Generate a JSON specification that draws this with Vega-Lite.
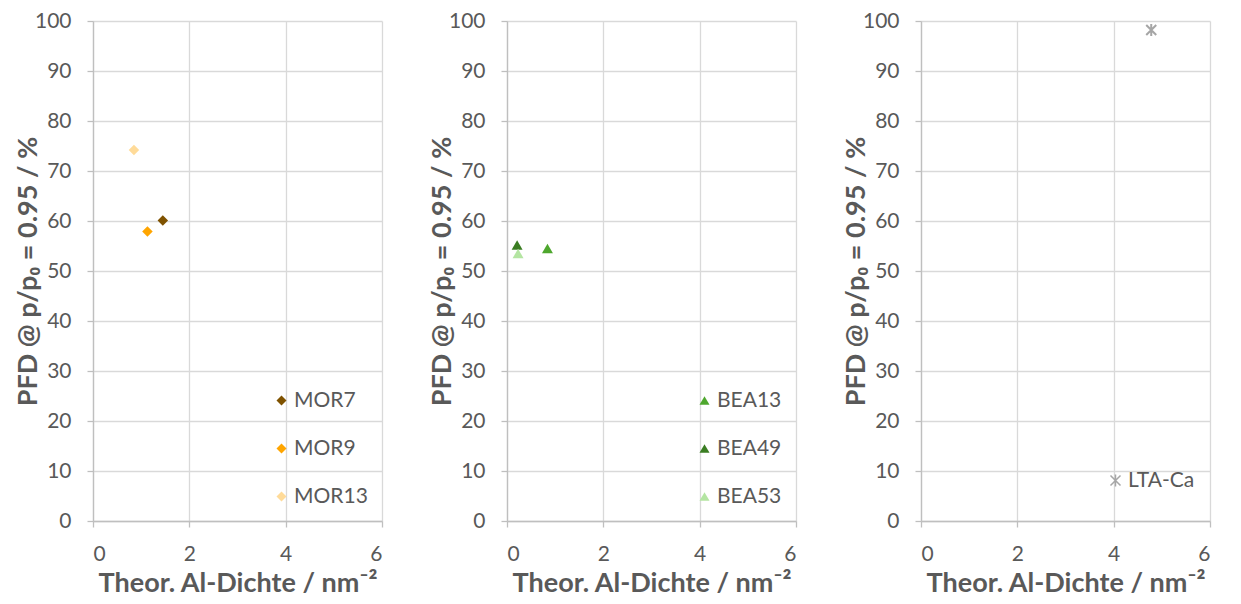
{
  "$schema": "https://vega.github.io/schema/vega-lite/v6.json",
  "background": "white",
  "padding": {"left": 14, "top": 10, "right": 10, "bottom": 5},
  "spacing": 45,
  "datasets": {
    "mor": [
      {"sample": "MOR7", "density": 1.45, "pfd": 60.1},
      {"sample": "MOR9", "density": 1.13, "pfd": 57.9},
      {"sample": "MOR13", "density": 0.85, "pfd": 74.2}
    ],
    "bea": [
      {"sample": "BEA13", "density": 0.84, "pfd": 54.5},
      {"sample": "BEA49", "density": 0.21, "pfd": 55.2},
      {"sample": "BEA53", "density": 0.23, "pfd": 53.5}
    ],
    "lta": [
      {"sample": "LTA-Ca", "density": 4.78, "pfd": 98.2}
    ]
  },
  "config": {
    "font": "Lato",
    "view": {"stroke": null},
    "axis": {
      "labelFont": "Lato",
      "labelFontSize": 21,
      "labelColor": "#595959",
      "titleFont": "Lato",
      "titleFontSize": 27,
      "titleFontWeight": "bold",
      "titleColor": "#595959",
      "gridColor": "#d9d9d9",
      "gridWidth": 1.3,
      "domainColor": "#bfbfbf",
      "domainWidth": 1.3,
      "tickColor": "#bfbfbf",
      "tickSize": 6,
      "tickWidth": 1.3
    },
    "legend": {
      "orient": "bottom-right",
      "offset": 14,
      "padding": 0,
      "labelFont": "Lato",
      "labelFontSize": 21,
      "labelColor": "#595959",
      "labelOffset": 2,
      "rowPadding": 26,
      "symbolSize": 100,
      "title": null
    }
  },
  "resolve": {"scale": {"color": "independent", "shape": "independent"}, "legend": {"color": "independent", "shape": "independent"}},
  "hconcat": [
    {
      "width": 289,
      "height": 500,
      "data": {"name": "mor"},
      "mark": {"type": "point", "filled": true, "opacity": 1, "size": 110},
      "encoding": {
        "x": {"field": "density", "type": "quantitative", "scale": {"domain": [0, 6]}, "axis": {"values": [0, 2, 4, 6], "title": "Theor. Al-Dichte / nm⁻²", "labelPadding": 16, "titlePadding": 6}},
        "y": {"field": "pfd", "type": "quantitative", "scale": {"domain": [0, 100]}, "axis": {"values": [0,10,20,30,40,50,60,70,80,90,100], "title": "PFD @ p/p₀ = 0.95 / %", "labelPadding": 16, "titlePadding": -8}},
        "color": {"field": "sample", "type": "nominal", "scale": {"domain": ["MOR7", "MOR9", "MOR13"], "range": ["#7f5200", "#ffa500", "#ffdb99"]}},
        "shape": {"field": "sample", "type": "nominal", "scale": {"domain": ["MOR7", "MOR9", "MOR13"], "range": ["diamond", "diamond", "diamond"]}}
      }
    },
    {
      "width": 289,
      "height": 500,
      "data": {"name": "bea"},
      "mark": {"type": "point", "filled": true, "opacity": 1, "size": 120},
      "encoding": {
        "x": {"field": "density", "type": "quantitative", "scale": {"domain": [0, 6]}, "axis": {"values": [0, 2, 4, 6], "title": "Theor. Al-Dichte / nm⁻²", "labelPadding": 16, "titlePadding": 6}},
        "y": {"field": "pfd", "type": "quantitative", "scale": {"domain": [0, 100]}, "axis": {"values": [0,10,20,30,40,50,60,70,80,90,100], "title": "PFD @ p/p₀ = 0.95 / %", "labelPadding": 16, "titlePadding": -8}},
        "color": {"field": "sample", "type": "nominal", "scale": {"domain": ["BEA13", "BEA49", "BEA53"], "range": ["#4ea72e", "#3a7d22", "#b4e5a2"]}},
        "shape": {"field": "sample", "type": "nominal", "scale": {"domain": ["BEA13", "BEA49", "BEA53"], "range": ["triangle-up", "triangle-up", "triangle-up"]}}
      }
    },
    {
      "width": 289,
      "height": 500,
      "data": {"name": "lta"},
      "mark": {"type": "point", "filled": false, "opacity": 1, "size": 100, "strokeWidth": 2},
      "encoding": {
        "x": {"field": "density", "type": "quantitative", "scale": {"domain": [0, 6]}, "axis": {"values": [0, 2, 4, 6], "title": "Theor. Al-Dichte / nm⁻²", "labelPadding": 16, "titlePadding": 6}},
        "y": {"field": "pfd", "type": "quantitative", "scale": {"domain": [0, 100]}, "axis": {"values": [0,10,20,30,40,50,60,70,80,90,100], "title": "PFD @ p/p₀ = 0.95 / %", "labelPadding": 16, "titlePadding": -8}},
        "color": {"field": "sample", "type": "nominal", "scale": {"domain": ["LTA-Ca"], "range": ["#a6a6a6"]}, "legend": {"orient": "none", "legendX": 184, "legendY": 449}},
        "shape": {"field": "sample", "type": "nominal", "scale": {"domain": ["LTA-Ca"], "range": ["M-1,-1L1,1M1,-1L-1,1M0,-1.2L0,1.2"]}, "legend": {"orient": "none", "legendX": 184, "legendY": 449}}
      }
    }
  ]
}
